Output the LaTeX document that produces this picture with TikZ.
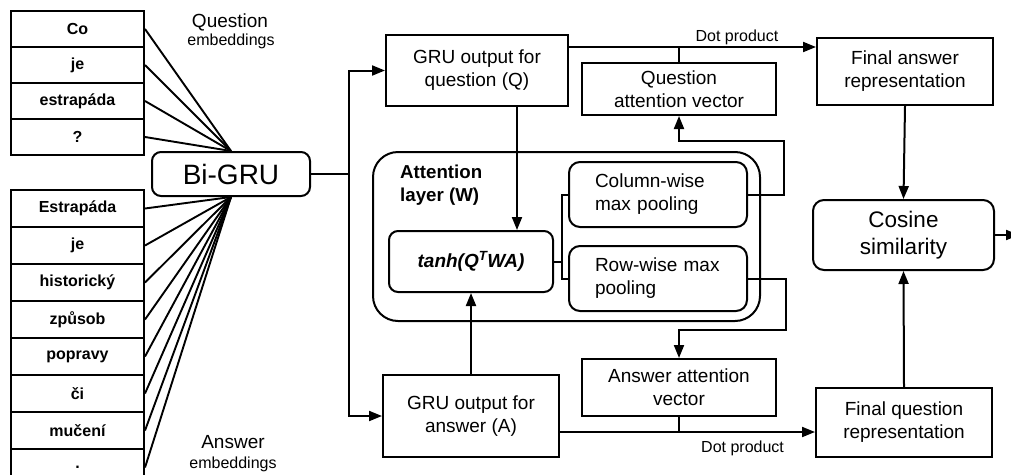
\documentclass[tikz,border=0pt]{standalone}
\usepackage{fontspec}
\setmainfont{Liberation Sans}
\usetikzlibrary{positioning, arrows.meta}

\begin{document}
\begin{tikzpicture}[x=1pt,y=-1pt,
  word/.style={draw, line width=2pt, minimum width=133pt, inner sep=0pt, font=\fontsize{16}{19}\selectfont\bfseries},
  box/.style={draw, line width=2pt, align=center, inner sep=0pt, font=\fontsize{19}{23}\selectfont},
  rbox/.style={box, rounded corners=9pt},
  note/.style={align=center, inner sep=0pt, font=\fontsize{16}{19}\selectfont},
  link/.style={line width=1.9pt},
  wire/.style={line width=2pt},
  arr/.style={line width=2pt, -{Triangle[length=13pt,width=10pt]}}]
  \path[use as bounding box] (0,0) rectangle (1011,474);
  \clip (0,0) rectangle (1011,474);

  % question words
  \node[word, minimum height=36pt] (q1) at (77.5,29) {Co};
  \node[word, minimum height=36pt] (q2) at (77.5,65) {je};
  \node[word, minimum height=36pt] (q3) at (77.5,101) {estrapáda};
  \node[word, minimum height=36pt] (q4) at (77.5,137) {?};
  \node[note, font=\fontsize{19}{22}\selectfont, anchor=base] (qtitle) at (230,27) {Question};
  \node[note, anchor=base] (qsub) at (231,45) {embeddings};

  % answer words
  \node[word, minimum height=37pt] (a1) at (77.5,208.5) {Estrapáda};
  \node[word, minimum height=37pt] (a2) at (77.5,245.5) {je};
  \node[word, minimum height=37pt] (a3) at (77.5,282.5) {historický};
  \node[word, minimum height=37pt] (a4) at (77.5,319.5) {způsob};
  \node[word, minimum height=37pt] (a5) at (77.5,356.5) {popravy};
  \node[word, minimum height=37pt] (a6) at (77.5,393.5) {či};
  \node[word, minimum height=37pt] (a7) at (77.5,430.5) {mučení};
  \node[word, minimum height=37pt] (a8) at (77.5,467.5) {.};
  \node[note, font=\fontsize{19}{22}\selectfont, anchor=base] (atitle) at (233,448) {Answer};
  \node[note, anchor=base] (asub) at (233,468) {embeddings};

  \node[rbox, minimum width=158pt, minimum height=44pt, font=\fontsize{28}{32}\selectfont] (bigru) at (231,174) {Bi-GRU};

  \draw[link] (q1.east) -- (bigru.north);
  \draw[link] (q2.east) -- (bigru.north);
  \draw[link] (q3.east) -- (bigru.north);
  \draw[link] (q4.east) -- (bigru.north);
  \draw[link] (a1.east) -- (bigru.south);
  \draw[link] (a2.east) -- (bigru.south);
  \draw[link] (a3.east) -- (bigru.south);
  \draw[link] (a4.east) -- (bigru.south);
  \draw[link] (a5.east) -- (bigru.south);
  \draw[link] (a6.east) -- (bigru.south);
  \draw[link] (a7.east) -- (bigru.south);
  \draw[link] (a8.east) -- (bigru.south);

  % GRU outputs
  \node[box, minimum width=182pt, minimum height=71pt] (gruq) at (477,70.5) {GRU output for\\question (Q)};
  \node[box, minimum width=176pt, minimum height=82pt] (grua) at (471,416) {GRU output for\\answer (A)};
  \draw[arr] (bigru.east) -- ++(38,0) |- (gruq.west);
  \draw[arr] (bigru.east) -- ++(38,0) |- (grua.west);

  % attention layer
  \node[draw, line width=2pt, rounded corners=25pt, minimum width=387pt, minimum height=169pt] (att) at (566.5,236.5) {};
  \node[anchor=north west, align=left, inner sep=0pt, font=\fontsize{18.7}{23}\selectfont\bfseries] (attlabel) at (400,165) {Attention\\layer (W)};
  \node[rbox, minimum width=164pt, minimum height=61pt, font=\fontsize{19}{23}\selectfont\bfseries\itshape] (tanh) at (471,261.5) {tanh(Q\textsuperscript{T}WA)};
  \node[rbox, rounded corners=11pt, minimum width=178pt, minimum height=65pt, text width=126pt, align=left] (colpool) at (658,194.5) {Column-wise\\max pooling};
  \node[rbox, rounded corners=11pt, minimum width=178pt, minimum height=65pt, text width=126pt, align=left] (rowpool) at (658,278.5) {Row-wise max\\pooling};
  \draw[arr] (gruq.south -| 517,0) -- (tanh.north -| 517,0);
  \draw[arr] (grua.north) -- (tanh.south);
  \draw[wire] (tanh.east) -- ++(8,0) coordinate (split);
  \draw[wire] (colpool.west) -| (split) |- (rowpool.west);

  % attention vectors
  \node[box, minimum width=194pt, minimum height=52pt] (qatt) at (679,89) {Question\\attention vector};
  \node[box, minimum width=194pt, minimum height=57pt] (aatt) at (679,387.5) {Answer attention\\vector};
  \draw[arr] (colpool.east) -- ++(36,0) |- (qatt.south |- 0,141) -- (qatt.south);
  \draw[arr] (rowpool.east) -- ++(38,0) |- (aatt.north |- 0,330) -- (aatt.north);

  % final representations
  \node[box, minimum width=176pt, minimum height=67pt] (finala) at (905,71.5) {Final answer\\representation};
  \node[box, minimum width=176pt, minimum height=69pt] (finalq) at (904,422.5) {Final question\\representation};
  \node[rbox, rounded corners=11pt, minimum width=181pt, minimum height=70pt, font=\fontsize{22.5}{27}\selectfont] (cosine) at (903.5,235) {Cosine\\similarity};
  \draw[arr] (gruq.east |- 0,47) -- (finala.west |- 0,47) node[note, pos=0.68, above=1pt] {Dot product};
  \draw[wire] (qatt.north) -- (qatt.north |- 0,47);
  \draw[arr] (grua.east |- 0,432) -- (finalq.west |- 0,432) node[note, pos=0.716, below=8pt] {Dot product};
  \draw[wire] (aatt.south) -- (aatt.south |- 0,432);
  \draw[arr] (finala.south) -- (cosine.north);
  \draw[arr] (finalq.north) -- (cosine.south);
  \draw[arr] (cosine.east) -- ++(24,0);
\end{tikzpicture}
\end{document}
